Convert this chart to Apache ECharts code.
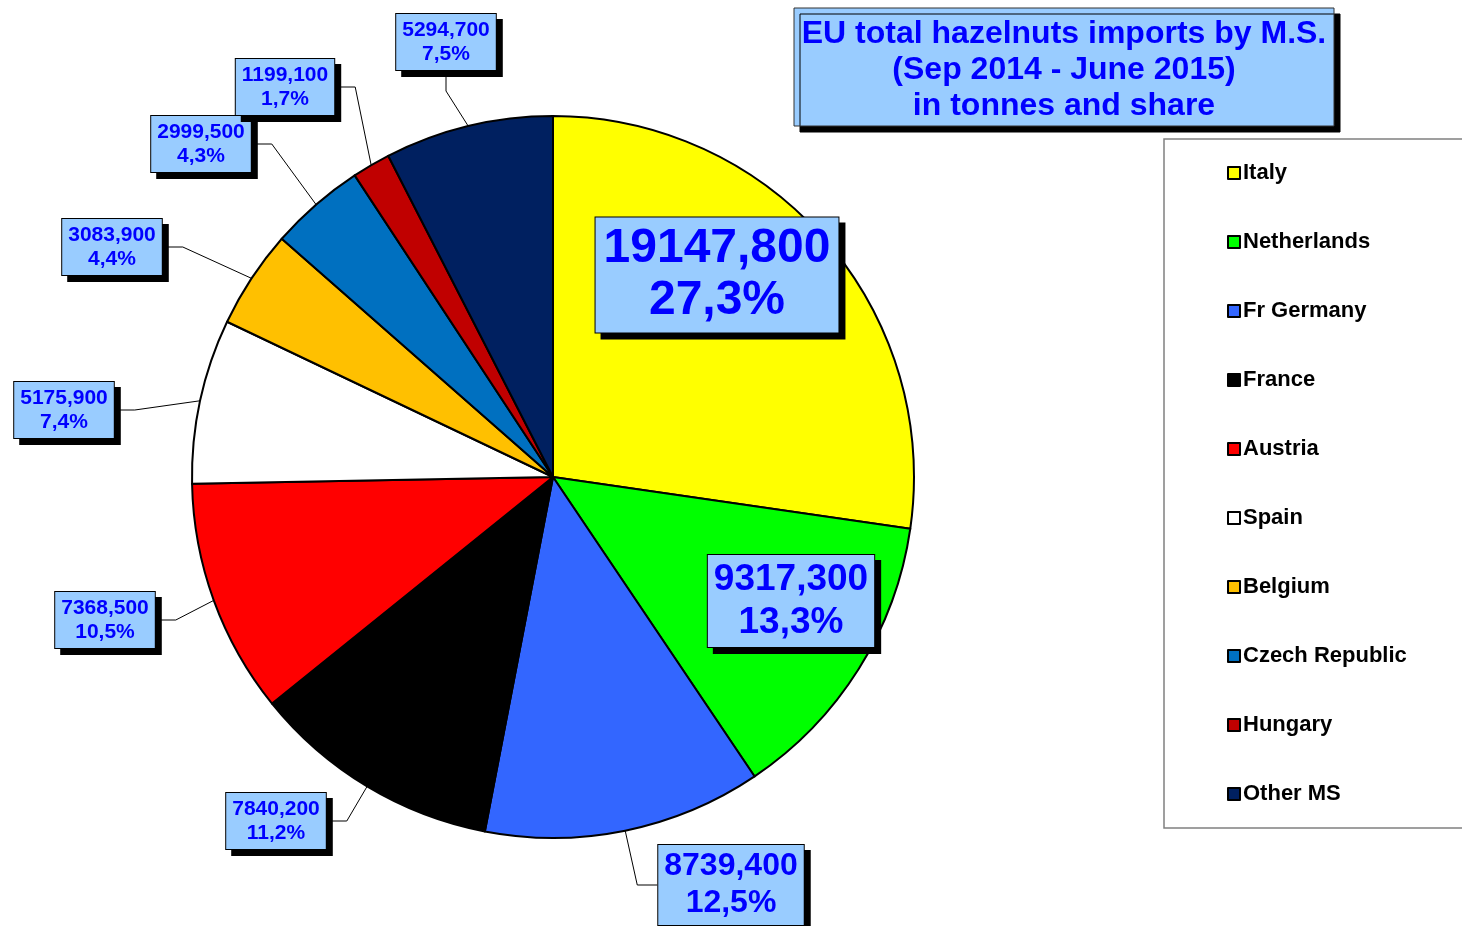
<!DOCTYPE html>
<html>
<head>
<meta charset="utf-8">
<script src="https://cdn.jsdelivr.net/npm/echarts@6/dist/echarts.min.js"></script>
<style>
  html, body { margin: 0; padding: 0; background: #fff; }
  #chart { width: 1462px; height: 926px; }
</style>
</head>
<body>
<div id="chart"></div>
<script>
// data (tonnes)
var countries = ['Italy', 'Netherlands', 'Fr Germany', 'France', 'Austria', 'Spain', 'Belgium', 'Czech Republic', 'Hungary', 'Other MS'];
var imports = [19147.8, 9317.3, 8739.4, 7840.2, 7368.5, 5175.9, 3083.9, 2999.5, 1199.1, 5294.7];
var sliceColors = ['#ffff00', '#00ff00', '#3366ff', '#000000', '#ff0000', '#ffffff', '#ffc000', '#0070c0', '#c00000', '#002060'];

// where each label box sits (centre)
var labelPos = [
  [717, 275], [791, 601], [731, 885], [276, 821], [105, 620],
  [64, 410], [112, 247], [201, 144], [285, 87], [446, 42]
];

var total = imports.reduce(function (a, b) { return a + b; }, 0);

function labelStyle(size, lh, pad) {
  return {
    show: true,
    color: '#0000ff',
    fontFamily: 'Liberation Sans, Arial, sans-serif',
    fontWeight: 'bold',
    fontSize: size,
    lineHeight: lh,
    align: 'center',
    backgroundColor: '#99ccff',
    borderColor: '#000',
    borderWidth: 1,
    padding: pad,
    shadowColor: '#000',
    shadowBlur: 0,
    shadowOffsetX: 6,
    shadowOffsetY: 6
  };
}

var pieData = countries.map(function (name, i) {
  var item = { name: name, value: imports[i], itemStyle: { color: sliceColors[i] } };
  if (i === 0) {
    item.label = labelStyle(48, 52, [6, 8, 5, 8]);
    item.labelLine = { show: false };
  } else if (i === 1) {
    item.label = labelStyle(37, 43, [3, 6, 3, 6]);
    item.labelLine = { show: false };
  } else if (i === 2) {
    item.label = labelStyle(32, 37, [3, 6, 3, 6]);
  } else {
    item.label = labelStyle(21, 24, [4, 6, 4, 6]);
  }
  return item;
});

var chart = echarts.init(document.getElementById('chart'));

var option = {
  backgroundColor: '#ffffff',
  animation: false,
  graphic: [
    {
      type: 'rect',
      shape: { x: 1164, y: 139, width: 310, height: 689 },
      style: { fill: '#fff', stroke: '#808080', lineWidth: 1.5 },
      z: -1
    },
    {
      type: 'rect',
      shape: { x: 794, y: 8, width: 540, height: 118 },
      style: {
        fill: '#99ccff', stroke: '#333', lineWidth: 1,
        shadowColor: '#000', shadowBlur: 0, shadowOffsetX: 6, shadowOffsetY: 6
      }
    },
    {
      type: 'text',
      x: 1064,
      y: 70,
      style: {
        text: 'EU total hazelnuts imports by M.S.\n(Sep 2014 - June 2015)\nin tonnes and share',
        fill: '#0000ff',
        font: 'bold 32px "Liberation Sans", Arial, sans-serif',
        lineHeight: 36,
        align: 'center',
        verticalAlign: 'middle'
      }
    }
  ],
  legend: {
    orient: 'vertical',
    left: 1222,
    top: 157,
    itemGap: 47,
    itemWidth: 12,
    itemHeight: 12,
    icon: 'rect',
    itemStyle: { borderColor: '#000', borderWidth: 2 },
    textStyle: {
      fontFamily: 'Liberation Sans, Arial, sans-serif',
      fontWeight: 'bold',
      fontSize: 22,
      lineHeight: 22,
      color: '#000',
      padding: [0, 0, 0, -2]
    },
    data: countries
  },
  series: [
    {
      type: 'pie',
      center: [553, 477],
      radius: 361,
      startAngle: 90,
      clockwise: true,
      avoidLabelOverlap: false,
      itemStyle: { borderColor: '#000', borderWidth: 2 },
      label: {
        formatter: function (p) {
          var v = p.value.toFixed(3).replace('.', ',');
          var pct = (p.value / total * 100).toFixed(1).replace('.', ',') + '%';
          return v + '\n' + pct;
        }
      },
      labelLine: {
        show: true,
        length: 20,
        length2: 20,
        lineStyle: { color: '#000', width: 1 }
      },
      labelLayout: function (params) {
        var pos = labelPos[params.dataIndex];
        return { x: pos[0], y: pos[1], align: 'center', verticalAlign: 'middle' };
      },
      emphasis: { disabled: true },
      data: pieData
    }
  ]
};

chart.setOption(option);
</script>
</body>
</html>
